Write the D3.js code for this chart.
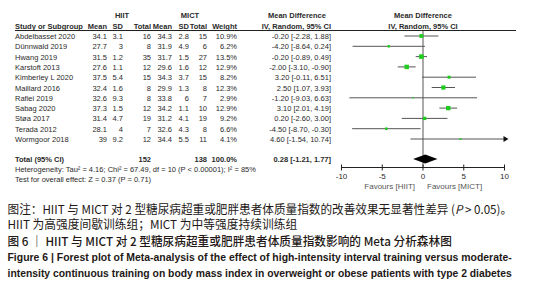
<!DOCTYPE html>
<html>
<head>
<meta charset="utf-8">
<script src="https://cdn.jsdelivr.net/npm/d3@7"></script>
<style>
  body { margin: 0; background: #fff; }
  svg { display: block; }
</style>
</head>
<body>
<div id="chart"></div>
<script>
// Study data
const studies  = ["Abdelbasset 2020", "Dünnwald 2019", "Hwang 2019", "Karstoft 2013", "Kimberley L 2020",
                  "Maillard 2016", "Rafiei 2019", "Sabag 2020", "Støa 2017", "Terada 2012", "Wormgoor 2018"];
const hiitMean = [34.1, 27.7, 31.5, 27.6, 37.5, 32.4, 32.6, 37.3, 31.4, 28.1, 39];
const hiitSD   = [3.1, 3, 1.2, 1.1, 5.4, 1.6, 9.3, 1.5, 4.7, 4, 9.2];
const hiitN    = [16, 8, 35, 12, 15, 8, 8, 12, 19, 7, 12];
const mictMean = [34.3, 31.9, 31.7, 29.6, 34.3, 29.9, 33.8, 34.2, 31.2, 32.6, 34.4];
const mictSD   = [2.8, 4.9, 1.5, 1.6, 3.7, 1.3, 6, 1.1, 4.1, 4.3, 5.5];
const mictN    = [15, 6, 27, 12, 15, 8, 7, 10, 19, 8, 11];
const weights  = [10.9, 6.2, 13.5, 12.9, 8.2, 12.3, 2.9, 12.9, 9.2, 6.6, 4.1];
const md       = [-0.20, -4.20, -0.20, -2.00, 3.20, 2.50, -1.20, 3.10, 0.20, -4.50, 4.60];
const ciLow    = [-2.28, -8.64, -0.89, -3.10, -0.11, 1.07, -9.03, 2.01, -2.60, -8.70, -1.54];
const ciHigh   = [1.88, 0.24, 0.49, -0.90, 6.51, 3.93, 6.63, 4.19, 3.00, -0.30, 10.74];

const total = { hiitN: 152, mictN: 138, weight: "100.0%", md: 0.28, lo: -1.21, hi: 1.77 };
const xTicks = [-10, -5, 0, 5, 10];
const heterogeneity = "Heterogeneity: Tau² = 4.16; Chi² = 67.49, df = 10 (P < 0.00001); I² = 85%";
const overallTest = "Test for overall effect: Z = 0.37 (P = 0.71)";

const W = 549, H = 300;
const svg = d3.select("#chart").append("svg")
  .attr("width", W).attr("height", H)
  .style("font-family", "'Liberation Sans', Arial, sans-serif");

const ink = "#2a2a2a";

// column right edges
const col = { name: 15, hMean: 107, hSD: 123, hN: 151, mMean: 172, mSD: 189, mN: 207, weight: 237, md: 331 };

const y = d3.scalePoint().domain(studies).range([36, 139]);
const x = d3.scaleLinear().domain([-10, 10]).range([341.5, 504.5]);
const sq = d3.scaleLinear().domain([0, 13.5]).range([0.6, 4.6]);

const table = svg.append("g").attr("font-size", 7.5).attr("fill", ink);

// headers
const hdr = table.append("g").attr("font-weight", "bold");
hdr.append("text").attr("x", 122).attr("y", 18).attr("text-anchor", "middle").text("HIIT");
hdr.append("text").attr("x", 190).attr("y", 18).attr("text-anchor", "middle").text("MICT");
hdr.append("text").attr("x", col.md - 34).attr("y", 18).attr("text-anchor", "middle").text("Mean Difference");
hdr.append("text").attr("x", x(0)).attr("y", 18).attr("text-anchor", "middle").text("Mean Difference");
hdr.append("text").attr("x", col.name).attr("y", 28.5).text("Study or Subgroup");
[["Mean", col.hMean], ["SD", col.hSD], ["Total", col.hN], ["Mean", col.mMean], ["SD", col.mSD],
 ["Total", col.mN], ["Weight", col.weight], ["IV, Random, 95% CI", col.md]].forEach(([t, cx]) => {
  hdr.append("text").attr("x", cx).attr("y", 28.5).attr("text-anchor", "end").text(t);
});
hdr.append("text").attr("x", x(0)).attr("y", 28.5).attr("text-anchor", "middle").text("IV, Random, 95% CI");

svg.append("line").attr("x1", 15).attr("x2", 516).attr("y1", 30.5).attr("y2", 30.5)
  .attr("stroke", "#222").attr("stroke-width", 1);

// study rows
const rows = table.selectAll("g.row").data(studies).enter().append("g")
  .attr("class", "row")
  .attr("transform", d => `translate(0,${y(d) + 3})`);

rows.append("text").attr("x", col.name).text(d => d);
const cells = [
  [hiitMean, col.hMean], [hiitSD, col.hSD], [hiitN, col.hN],
  [mictMean, col.mMean], [mictSD, col.mSD], [mictN, col.mN]
];
cells.forEach(([arr, cx]) => {
  rows.append("text").attr("x", cx).attr("text-anchor", "end").text((d, i) => String(arr[i]));
});
rows.append("text").attr("x", col.weight).attr("text-anchor", "end").text((d, i) => weights[i].toFixed(1) + "%");
rows.append("text").attr("x", col.md).attr("text-anchor", "end")
  .text((d, i) => `${md[i].toFixed(2)} [${ciLow[i].toFixed(2)}, ${ciHigh[i].toFixed(2)}]`);

// total row
const tRow = table.append("g").attr("transform", "translate(0,162)").attr("font-weight", "bold");
tRow.append("text").attr("x", col.name).text("Total (95% CI)");
tRow.append("text").attr("x", col.hN).attr("text-anchor", "end").text(total.hiitN);
tRow.append("text").attr("x", col.mN).attr("text-anchor", "end").text(total.mictN);
tRow.append("text").attr("x", col.weight).attr("text-anchor", "end").text(total.weight);
tRow.append("text").attr("x", col.md).attr("text-anchor", "end")
  .text(`${total.md.toFixed(2)} [${total.lo.toFixed(2)}, ${total.hi.toFixed(2)}]`);
table.append("text").attr("x", col.name).attr("y", 172).text(heterogeneity);
table.append("text").attr("x", col.name).attr("y", 182).text(overallTest);

// forest plot
const plot = svg.append("g");
plot.append("line").attr("x1", x(0)).attr("x2", x(0)).attr("y1", 31).attr("y2", 167)
  .attr("stroke", "#aaa").attr("stroke-width", 2);

studies.forEach((s, i) => {
  const yy = y(s);
  const right = Math.min(ciHigh[i], 10);
  plot.append("line")
    .attr("x1", x(Math.max(ciLow[i], -10))).attr("x2", x(right))
    .attr("y1", yy).attr("y2", yy)
    .attr("stroke", "#555").attr("stroke-width", 1);
  if (ciHigh[i] > 10) {
    const ax = x(10);
    plot.append("path")
      .attr("d", `M${ax + 4},${yy} L${ax - 1},${yy - 3} L${ax - 1},${yy + 3} Z`)
      .attr("fill", "#111");
  }
  const s2 = sq(weights[i]);
  plot.append("rect")
    .attr("x", x(md[i]) - s2 / 2).attr("y", yy - s2 / 2)
    .attr("width", s2).attr("height", s2)
    .attr("fill", "#1fcc1f");
});

// pooled diamond
const dy = 159;
plot.append("path")
  .attr("d", `M${x(total.lo)},${dy} L${x(total.md)},${dy - 4.5} L${x(total.hi)},${dy} L${x(total.md)},${dy + 4.5} Z`)
  .attr("fill", "#000");

// axis
const axisY = 167.5;
const axis = plot.append("g");
axis.append("line").attr("x1", x(-10)).attr("x2", x(10)).attr("y1", axisY).attr("y2", axisY)
  .attr("stroke", "#222");
axis.selectAll("line.tick").data(xTicks).enter().append("line")
  .attr("class", "tick")
  .attr("x1", d => x(d)).attr("x2", d => x(d))
  .attr("y1", axisY - 3).attr("y2", axisY + 3)
  .attr("stroke", "#222");
axis.selectAll("text").data(xTicks).enter().append("text")
  .attr("x", d => x(d)).attr("y", 179)
  .attr("text-anchor", "middle").attr("font-size", 8).attr("fill", ink)
  .text(d => d);
axis.append("text").attr("x", x(0) - 8).attr("y", 188.5).attr("text-anchor", "end")
  .attr("font-size", 8).attr("fill", "#555").text("Favours [HIIT]");
axis.append("text").attr("x", x(0) + 4).attr("y", 188.5)
  .attr("font-size", 8).attr("fill", "#555").text("Favours [MICT]");

// caption: each line is squeezed horizontally to the width it has in the figure
const cjk = "'Noto Sans CJK SC', sans-serif";
const latin = "'Liberation Sans', Arial, sans-serif";
const cap = svg.append("g").attr("fill", "#231815");

function capLine(yb, width, size, weight, family, parts) {
  const t = cap.append("text").attr("x", 0).attr("y", 0)
    .attr("font-size", size).attr("font-weight", weight).attr("font-family", family);
  parts.forEach(p => {
    const ts = t.append("tspan").text(p.t);
    if (p.i) ts.attr("font-style", "italic");
  });
  const w = t.node().getComputedTextLength();
  const k = Math.min(1.05, width / w);
  t.attr("transform", `translate(7.5,${yb}) scale(${k},1)`);
}

capLine(213.5, 505, 12, "normal", cjk, [
  { t: "图注：HIIT 与 MICT 对 2 型糖尿病超重或肥胖患者体质量指数的改善效果无显著性差异 (" },
  { t: "P", i: true }, { t: " > 0.05)。" }
]);
capLine(228.5, 290, 12, "normal", cjk, [{ t: "HIIT 为高强度间歇训练组；MICT 为中等强度持续训练组" }]);
capLine(246, 445, 12, "500", cjk, [{ t: "图 6 ｜ HIIT 与 MICT 对 2 型糖尿病超重或肥胖患者体质量指数影响的 Meta 分析森林图" }]);
capLine(261, 505, 11.5, "bold", latin,
  [{ t: "Figure 6 | Forest plot of Meta-analysis of the effect of high-intensity interval training versus moderate-" }]);
capLine(276.5, 505, 11.5, "bold", latin,
  [{ t: "intensity continuous training on body mass index in overweight or obese patients with type 2 diabetes" }]);
</script>
</body>
</html>
